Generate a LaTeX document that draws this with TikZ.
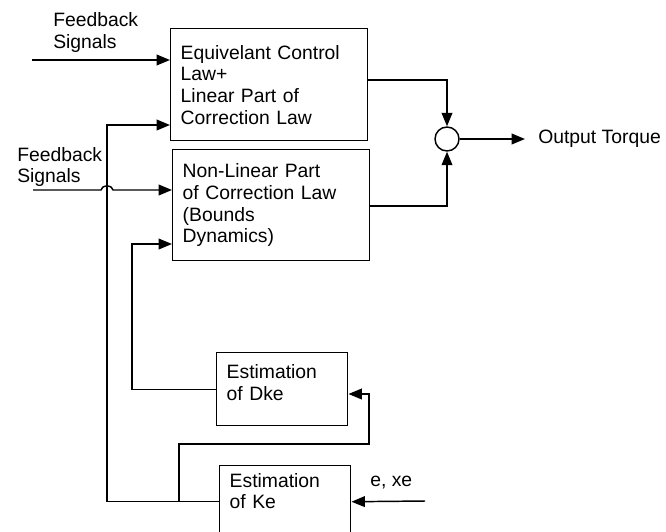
\documentclass[tikz,border=0pt]{standalone}
\usepackage{fontspec}
\setmainfont{Liberation Sans}
\usetikzlibrary{arrows.meta}
\tikzset{
blk/.style={
  draw,
  line width=1.1pt,
  anchor=north west,
  align=left,
  inner xsep=7.5pt,
  font=\fontsize{14.5}{16.3}\selectfont
},
lbl/.style={anchor=west,align=left,inner sep=0pt,font=\fontsize{14.5}{16.5}\selectfont},
sig/.style={line width=1.1pt,-{Triangle[length=10pt,width=8pt]}},
}

\begin{document}
\begin{tikzpicture}[x=0.75pt,y=-0.75pt]
\useasboundingbox (0,0) rectangle (666,531);
% the blocks
\node[blk,text width=132.75pt,minimum height=84pt] (eq) at (170,28)
  {Equivelant Control\\Law+\\Linear Part of\\Correction Law};
\node[blk,text width=132.75pt,minimum height=83.25pt] (nl) at (172,149)
  {Non-Linear Part\\of Correction Law\\(Bounds\\Dynamics)};
\node[blk,text width=83.25pt,minimum height=54.75pt] (dke) at (216,352)
  {Estimation\\of Dke\\[-6pt]~};
\node[blk,text width=83.25pt,minimum height=54pt] (ke) at (219,465)
  {Estimation\\of Ke\\~};
\node[draw,circle,line width=1.1pt,minimum size=18pt,inner sep=0pt] (sum) at (447,139) {};
% the labels
\node[lbl] (fblbl1) at (53,33) {Feedback\\Signals};
\node[lbl] (fblbl2) at (17,167) {Feedback\\Signals};
\node[lbl] (outlbl) at (538,139) {Output Torque};
\node[lbl] (elbl) at (370,483) {e, xe};
% the points
\coordinate (fb1) at (32,60);
\coordinate (fb2) at (33,190);
\coordinate (ein) at (425,501);
\coordinate (out) at (525,139);
\coordinate (j1) at (107,125);
\coordinate (j2) at (132,244);
\coordinate (b1) at (179,444);
\coordinate (b2) at (369,394);
\coordinate (s1) at (447,80);
\coordinate (s2) at (447,206);
% the arrows
\draw[sig] (fb1) -- (fb1 -| eq.west);
\draw[sig] (fb2) -- (101,190) arc[start angle=180,end angle=0,x radius=4.5pt,y radius=3pt] -- (fb2 -| nl.west);
\draw[sig] (ke.west) -| (j1) -- (j1 -| eq.west);
\draw[sig] (dke.west) -| (j2) -- (j2 -| nl.west);
\draw[sig] (b1 |- ke.west) -- (b1) -| (b2) -- (b2 -| dke.east);
\draw[sig] (ein) -- (ke.east);
\draw[sig] (s1 -| eq.east) -- (s1) -- (sum.north);
\draw[sig] (s2 -| nl.east) -- (s2) -- (sum.south);
\draw[sig] (sum.east) -- (out);
\end{tikzpicture}
\end{document}
